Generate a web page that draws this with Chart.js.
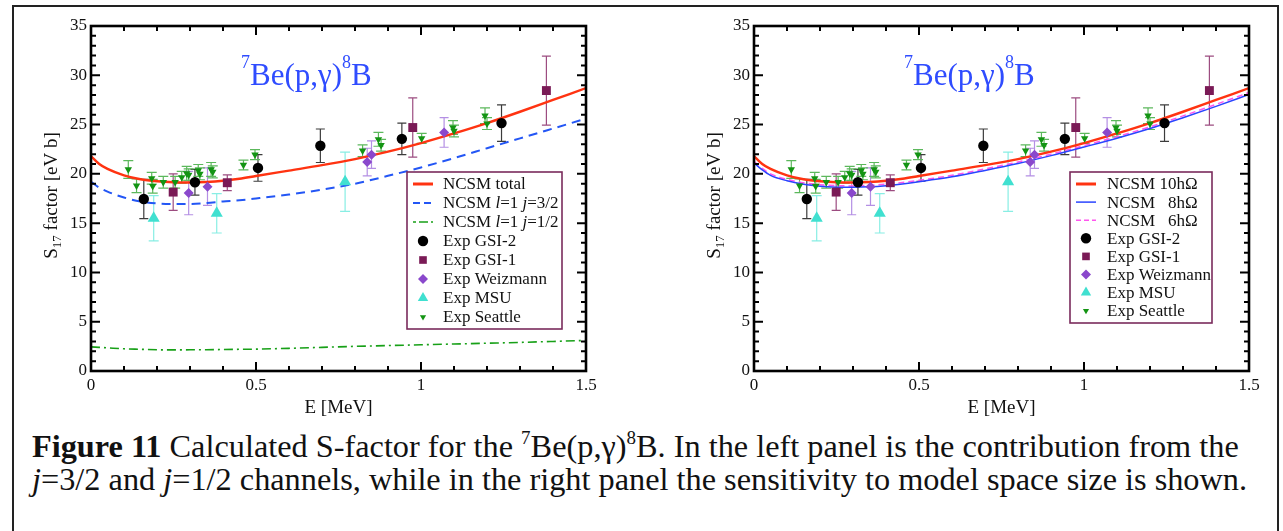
<!DOCTYPE html>
<html>
<head>
<meta charset="utf-8">
<script src="https://cdn.jsdelivr.net/npm/chart.js@4.4.1/dist/chart.umd.min.js"></script>
<style>
  html, body { margin: 0; padding: 0; background: #fff; }
  body { width: 1283px; height: 531px; position: relative; overflow: hidden;
         font-family: 'Liberation Serif', 'Times New Roman', Times, serif; color: #111; }
  #frame { position: absolute; left: 12px; top: 5px; width: 1263px; height: 600px; border: 2px solid #222; }
  canvas { position: absolute; top: 7px; }
  #leftChart { left: 14px; }
  #rightChart { left: 677px; }
  .cap { position: absolute; left: 32px; font-size: 32.3px; line-height: 32px; white-space: nowrap; }
  .cap sup { font-size: 19px; vertical-align: baseline; position: relative; top: -13px; }
</style>
</head>
<body>
<div id="frame"></div>
<canvas id="leftChart" width="600" height="420"></canvas>
<canvas id="rightChart" width="600" height="420"></canvas>
<div class="cap" style="top:430px"><b>Figure 11</b> Calculated S-factor for the <sup>7</sup>Be(p,γ)<sup>8</sup>B. In the left panel is the contribution from the</div>
<div class="cap" style="top:463px"><i>j</i>=3/2 and <i>j</i>=1/2 channels, while in the right panel the sensitivity to model space size is shown.</div>
<script>
// energy grid for the calculated curves (MeV)
const curveE = [0, 0.025, 0.05, 0.1, 0.15, 0.2, 0.25, 0.3, 0.35, 0.4, 0.45, 0.5, 0.6, 0.7, 0.8, 0.9, 1.0, 1.1, 1.2, 1.3, 1.4, 1.5];
const ncsmTotal = [21.8, 21.0, 20.5, 19.85, 19.45, 19.25, 19.15, 19.13, 19.18, 19.3, 19.5, 19.78, 20.33, 20.88, 21.5, 22.25, 23.12, 24.1, 25.15, 26.3, 27.5, 28.7];
const ncsmJ32 = [19.2, 18.6, 18.2, 17.6, 17.2, 17.0, 16.95, 16.95, 17.05, 17.2, 17.32, 17.5, 17.9, 18.4, 19.0, 19.8, 20.65, 21.6, 22.6, 23.6, 24.6, 25.6];
const ncsmJ12 = [2.45, 2.4, 2.35, 2.25, 2.2, 2.15, 2.14, 2.15, 2.16, 2.18, 2.2, 2.22, 2.3, 2.4, 2.5, 2.58, 2.66, 2.74, 2.82, 2.9, 3.0, 3.1];
const ncsm10 = ncsmTotal;
const ncsm8 = [21.1, 20.4, 19.85, 19.3, 18.95, 18.75, 18.65, 18.63, 18.68, 18.8, 18.98, 19.2, 19.7, 20.35, 21.05, 21.85, 22.72, 23.62, 24.6, 25.7, 26.85, 28.05];
const ncsm6 = [21.25, 20.55, 20.0, 19.45, 19.1, 18.9, 18.8, 18.78, 18.83, 18.95, 19.13, 19.35, 19.85, 20.5, 21.2, 22.0, 22.87, 23.78, 24.77, 25.88, 27.05, 28.25];

// experimental data: energy, S17, error
const gsi2E = [0.16, 0.315, 0.506, 0.695, 0.942, 1.244];
const gsi2S = [17.45, 19.15, 20.6, 22.85, 23.55, 25.15];
const gsi2Err = [2.0, 1.3, 1.35, 1.7, 1.6, 1.85];

const gsi1E = [0.249, 0.413, 0.975, 1.38];
const gsi1S = [18.15, 19.1, 24.7, 28.45];
const gsi1Err = [1.85, 0.8, 3.0, 3.5];

const weizE = [0.296, 0.353, 0.837, 0.85, 1.07];
const weizS = [18.05, 18.7, 21.2, 21.95, 24.2];
const weizErr = [2.2, 1.9, 1.4, 1.4, 1.5];

const msuE = [0.19, 0.381, 0.77];
const msuS = [15.5, 16.0, 19.2];
const msuErr = [2.3, 2.0, 3.0];

const seattleE = [0.113, 0.138, 0.184, 0.187, 0.219, 0.255, 0.275, 0.29, 0.296, 0.325, 0.33, 0.364, 0.369, 0.462, 0.497, 0.823, 0.871, 0.879, 1.002, 1.097, 1.1, 1.194, 1.2];
const seattleS = [20.45, 18.8, 19.55, 18.75, 19.15, 19.15, 19.65, 20.05, 19.9, 20.35, 20.0, 20.45, 20.2, 20.9, 21.95, 22.35, 23.5, 22.9, 23.6, 24.7, 24.35, 25.9, 25.1];
const seattleErr = [0.9, 0.7, 0.6, 0.7, 0.6, 0.6, 0.6, 0.7, 0.6, 0.6, 0.6, 0.7, 0.6, 0.5, 0.5, 0.6, 0.7, 0.6, 0.5, 0.7, 0.6, 0.8, 0.6];

const xTicks = [0, 0.5, 1, 1.5];
const yTicks = [0, 5, 10, 15, 20, 25, 30, 35];

const FONT = "'Liberation Serif', 'Times New Roman', Times, serif";
Chart.defaults.font.family = FONT;
Chart.defaults.color = '#111';

function pts(xs, ys) {
    return xs.map((x, i) => ({ x: x, y: ys[i] }));
}

function curve(label, ys, color, width, dash) {
    return {
        label: label, data: pts(curveE, ys), isCurve: true, order: 1,
        showLine: true, borderColor: color, backgroundColor: color, borderWidth: width,
        borderDash: dash || [], pointRadius: 0, cubicInterpolationMode: 'monotone', fill: false
    };
}

function markers(label, xs, ys, errs, style, radius, color, barColor, cap, rotation) {
    return {
        label: label, data: pts(xs, ys), errors: errs, barColor: barColor, cap: cap, order: 0,
        pointStyle: style, pointRadius: radius, pointRotation: rotation || 0,
        backgroundColor: color, borderColor: color, pointBorderWidth: 0, showLine: false
    };
}

function experimentSets() {
    return [
        markers('Exp GSI-2', gsi2E, gsi2S, gsi2Err, 'circle', 5.2, '#000000', '#3c3c3c', 4.5),
        markers('Exp GSI-1', gsi1E, gsi1S, gsi1Err, 'rect', 6.3, '#7a1a56', '#9c4c80', 4.5),
        markers('Exp Weizmann', weizE, weizS, weizErr, 'rectRot', 5, '#8a48cc', '#b48fe4', 4.5),
        markers('Exp MSU', msuE, msuS, msuErr, 'triangle', 7, '#40e0d0', '#88eee4', 5),
        markers('Exp Seattle', seattleE, seattleS, seattleErr, 'triangle', 4.3, '#139413', '#5cb85c', 5, 180)
    ];
}

// vertical error bars with caps, placed through the chart scales
const errorBars = {
    id: 'errorBars',
    beforeDatasetsDraw(chart) {
        const { ctx, chartArea: a, scales: { x, y } } = chart;
        ctx.save();
        ctx.beginPath();
        ctx.rect(a.left, a.top, a.right - a.left, a.bottom - a.top);
        ctx.clip();
        ctx.lineWidth = 1.2;
        chart.data.datasets.forEach(ds => {
            if (!ds.errors) return;
            ctx.strokeStyle = ds.barColor;
            ds.data.forEach((p, j) => {
                const px = x.getPixelForValue(p.x);
                const top = y.getPixelForValue(p.y + ds.errors[j]);
                const bot = y.getPixelForValue(p.y - ds.errors[j]);
                ctx.beginPath();
                ctx.moveTo(px, top); ctx.lineTo(px, bot);
                ctx.moveTo(px - ds.cap, top); ctx.lineTo(px + ds.cap, top);
                ctx.moveTo(px - ds.cap, bot); ctx.lineTo(px + ds.cap, bot);
                ctx.stroke();
            });
        });
        ctx.restore();
    }
};

// box around the plot with inward ticks on all four sides
const plotFrame = {
    id: 'plotFrame',
    afterDatasetsDraw(chart) {
        const { ctx, chartArea: a, scales: { x, y } } = chart;
        ctx.save();
        ctx.strokeStyle = '#000';
        ctx.lineWidth = 2;
        ctx.beginPath();
        for (let k = 0; k <= 35; k++) {
            const py = y.getPixelForValue(k);
            const len = k % 5 === 0 ? 9 : 5;
            ctx.moveTo(a.left, py); ctx.lineTo(a.left + len, py);
            ctx.moveTo(a.right, py); ctx.lineTo(a.right - len, py);
        }
        for (let k = 0; k <= 15; k++) {
            const px = x.getPixelForValue(k / 10);
            const len = k % 5 === 0 ? 9 : 5;
            ctx.moveTo(px, a.bottom); ctx.lineTo(px, a.bottom - len);
            ctx.moveTo(px, a.top); ctx.lineTo(px, a.top + len);
        }
        ctx.stroke();
        ctx.lineWidth = 2.6;
        ctx.strokeRect(a.left, a.top, a.right - a.left, a.bottom - a.top);
        ctx.restore();
    }
};

// rotated y title with subscript
const yTitle = {
    id: 'yTitle',
    afterDraw(chart) {
        const ctx = chart.ctx;
        const a = chart.chartArea;
        ctx.save();
        ctx.translate(43, (a.top + a.bottom) / 2 - 3);
        ctx.rotate(-Math.PI / 2);
        ctx.fillStyle = '#111';
        ctx.textBaseline = 'alphabetic';
        ctx.font = '19px ' + FONT;
        const wS = ctx.measureText('S').width;
        const rest = ' factor [eV b]';
        const wR = ctx.measureText(rest).width;
        ctx.font = '13px ' + FONT;
        const wSub = ctx.measureText('17').width;
        let xx = -(wS + wSub + wR) / 2;
        ctx.font = '19px ' + FONT;
        ctx.fillText('S', xx, 0);
        xx += wS;
        ctx.font = '13px ' + FONT;
        ctx.fillText('17', xx, 4);
        xx += wSub;
        ctx.font = '19px ' + FONT;
        ctx.fillText(rest, xx, 0);
        ctx.restore();
    }
};

// reaction label inside the plot
const reactionLabel = {
    id: 'reactionLabel',
    afterDraw(chart) {
        const ctx = chart.ctx;
        const parts = [['7', true], ['Be(p,γ)', false], ['8', true], ['B', false]];
        let xx = chart.chartArea.left + 150;
        const base = 78;
        ctx.save();
        ctx.fillStyle = '#2f4cff';
        ctx.textBaseline = 'alphabetic';
        parts.forEach(([t, sup]) => {
            ctx.font = (sup ? '18px ' : '31px ') + FONT;
            ctx.fillText(t, xx, sup ? base - 17 : base);
            xx += ctx.measureText(t).width;
        });
        ctx.restore();
    }
};

function boxLegend(cfg) {
    return {
        id: 'boxLegend',
        afterDraw(chart) {
            const ctx = chart.ctx;
            ctx.save();
            ctx.fillStyle = '#fff';
            ctx.fillRect(cfg.x, cfg.y, cfg.w, cfg.h);
            ctx.strokeStyle = '#7a2b5c';
            ctx.lineWidth = 1.6;
            ctx.strokeRect(cfg.x, cfg.y, cfg.w, cfg.h);
            cfg.items.forEach((item, i) => {
                const ds = chart.data.datasets[item.ds];
                const cy = cfg.rowY0 + i * cfg.rowStep + (item.dy || 0);
                if (ds.isCurve) {
                    ctx.strokeStyle = ds.borderColor;
                    ctx.lineWidth = item.lw || ds.borderWidth;
                    ctx.setLineDash(item.dash || ds.borderDash);
                    ctx.beginPath();
                    ctx.moveTo(cfg.symX - 10, cy);
                    ctx.lineTo(cfg.symX + 10, cy);
                    ctx.stroke();
                    ctx.setLineDash([]);
                } else {
                    ctx.fillStyle = ds.backgroundColor;
                    Chart.helpers.drawPoint(ctx, {
                        pointStyle: ds.pointStyle, radius: item.r || ds.pointRadius,
                        rotation: ds.pointRotation, borderWidth: 0
                    }, cfg.symX, cy);
                }
                let xx = cfg.textX;
                ctx.fillStyle = '#111';
                ctx.textBaseline = 'middle';
                item.text.forEach(([t, it]) => {
                    ctx.font = (it ? 'italic ' : '') + '17px ' + FONT;
                    ctx.fillText(t, xx, cy + 1);
                    xx += ctx.measureText(t).width;
                });
            });
            ctx.restore();
        }
    };
}

function makeChart(id, curves, legendCfg) {
    const ctx = document.getElementById(id).getContext('2d');
    return new Chart(ctx, {
        type: 'scatter',
        data: { datasets: experimentSets().concat(curves) },
        options: {
            responsive: false,
            animation: false,
            events: [],
            devicePixelRatio: 1,
            layout: { padding: { top: 19, right: 28, left: 0, bottom: 0 } },
            plugins: { legend: { display: false }, tooltip: { enabled: false } },
            scales: {
                x: {
                    type: 'linear', min: 0, max: 1.5,
                    afterBuildTicks: s => { s.ticks = xTicks.map(v => ({ value: v })); },
                    afterFit: s => { s.height = 56; },
                    grid: { display: false, drawTicks: false },
                    border: { display: false },
                    ticks: { font: { size: 17 }, padding: 4, color: '#111', maxRotation: 0, autoSkip: false,
                             callback: v => String(v) },
                    title: { display: true, text: 'E [MeV]', font: { size: 19 }, color: '#111',
                             padding: { top: 0, bottom: 8 } }
                },
                y: {
                    type: 'linear', min: 0, max: 35,
                    afterBuildTicks: s => { s.ticks = yTicks.map(v => ({ value: v })); },
                    afterFit: s => { s.width = 77; },
                    grid: { display: false, drawTicks: false },
                    border: { display: false },
                    ticks: { font: { size: 17 }, padding: 4, color: '#111', callback: v => String(v) }
                }
            }
        },
        plugins: [errorBars, plotFrame, yTitle, reactionLabel, boxLegend(legendCfg)]
    });
}

const pointItems = [
    { ds: 0, text: [['Exp GSI-2', false]] },
    { ds: 1, text: [['Exp GSI-1', false]], r: 5.4 },
    { ds: 2, text: [['Exp Weizmann', false]] },
    { ds: 3, text: [['Exp MSU', false]], r: 6 },
    { ds: 4, text: [['Exp Seattle', false]], r: 3.6 }
];

makeChart('leftChart', [
    curve('NCSM total', ncsmTotal, '#ff3311', 2.4),
    curve('NCSM l=1 j=3/2', ncsmJ32, '#2356f5', 2, [9, 6]),
    curve('NCSM l=1 j=1/2', ncsmJ12, '#17a017', 1.6, [9, 4, 2, 4])
], {
    x: 393, y: 165, w: 155, h: 157, symX: 409, textX: 429, rowY0: 177, rowStep: 19,
    items: [
        { ds: 5, text: [['NCSM total', false]], lw: 3 },
        { ds: 6, text: [['NCSM ', false], ['l', true], ['=1 ', false], ['j', true], ['=3/2', false]], dash: [7, 4] },
        { ds: 7, text: [['NCSM ', false], ['l', true], ['=1 ', false], ['j', true], ['=1/2', false]], dash: [3, 3, 9, 3] }
    ].concat(pointItems)
});

makeChart('rightChart', [
    curve('NCSM 10hΩ', ncsm10, '#ff3311', 2.4),
    curve('NCSM 8hΩ', ncsm8, '#2a44ff', 1.5),
    curve('NCSM 6hΩ', ncsm6, '#ff55ee', 1.5, [6, 4])
], {
    x: 393, y: 165, w: 142, h: 151, symX: 409, textX: 430, rowY0: 177, rowStep: 18.1,
    items: [
        { ds: 5, text: [['NCSM 10hΩ', false]], lw: 3 },
        { ds: 6, text: [['NCSM   8hΩ', false]] },
        { ds: 7, text: [['NCSM   6hΩ', false]], dash: [5, 3] }
    ].concat(pointItems)
});
</script>
</body>
</html>
